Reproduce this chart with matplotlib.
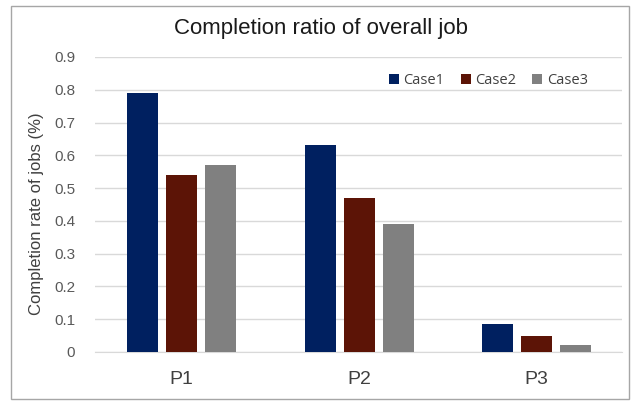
import numpy as np
import matplotlib
matplotlib.use('Agg')
import matplotlib.pyplot as plt
from matplotlib.patches import Rectangle

plt.rcParams['font.family'] = ['Liberation Sans Narrow', 'Liberation Sans', 'DejaVu Sans']

groups = ['P1', 'P2', 'P3']
cases = ['Case1', 'Case2', 'Case3']
case1 = [0.79, 0.63, 0.085]
case2 = [0.54, 0.47, 0.048]
case3 = [0.57, 0.39, 0.02]
yticks = [0, 0.1, 0.2, 0.3, 0.4, 0.5, 0.6, 0.7, 0.8, 0.9]
ytick_labels = ['0', '0.1', '0.2', '0.3', '0.4', '0.5', '0.6', '0.7', '0.8', '0.9']

colors = ['#002060', '#5c1406', '#808080']

fig = plt.figure(figsize=(6.36, 4.04), dpi=100)
ax = fig.add_axes([0.149, 0.129, 0.829, 0.730])

# frame around the whole chart
fig.patches.append(Rectangle((0.017, 0.012), 0.972, 0.972, transform=fig.transFigure,
                             fill=False, edgecolor='#a6a6a6', linewidth=1.0))

x = np.arange(len(groups))
w = 0.175
step = 0.219
for i, (vals, name) in enumerate(zip([case1, case2, case3], cases)):
    ax.bar(x + (i - 1) * step, vals, width=w, color=colors[i], label=name, zorder=3)

ax.set_xlim(-0.49, 2.48)
ax.set_ylim(0, 0.9)
ax.set_yticks(yticks)
ax.set_yticklabels(ytick_labels)
ax.set_xticks(x)
ax.set_xticklabels(groups)
ax.grid(axis='y', color='#d9d9d9', linewidth=1.0, zorder=0)
for s in ['top', 'right', 'left']:
    ax.spines[s].set_visible(False)
ax.spines['bottom'].set_color('#d9d9d9')
ax.tick_params(axis='y', length=0, pad=14, labelsize=11, labelcolor='#595959')
ax.tick_params(axis='x', length=0, pad=14, labelsize=14, labelcolor='#404040')

ax.set_ylabel('Completion rate of jobs (%)', fontsize=12, color='#404040')
ax.yaxis.set_label_coords(-0.096, 0.47)
fig.text(0.505, 0.93, 'Completion ratio of overall job', ha='center', va='center',
         fontsize=16, color='#1a1a1a')

leg = ax.legend(loc='upper right', bbox_to_anchor=(0.96, 0.99), ncol=3, frameon=False,
                handlelength=0.7, handleheight=0.7, handletextpad=0.3, columnspacing=1.1,
                prop={'family': 'Open Sans', 'size': 10.5})
for t in leg.get_texts():
    t.set_color('#404040')

fig.savefig('out.png', dpi=100)
